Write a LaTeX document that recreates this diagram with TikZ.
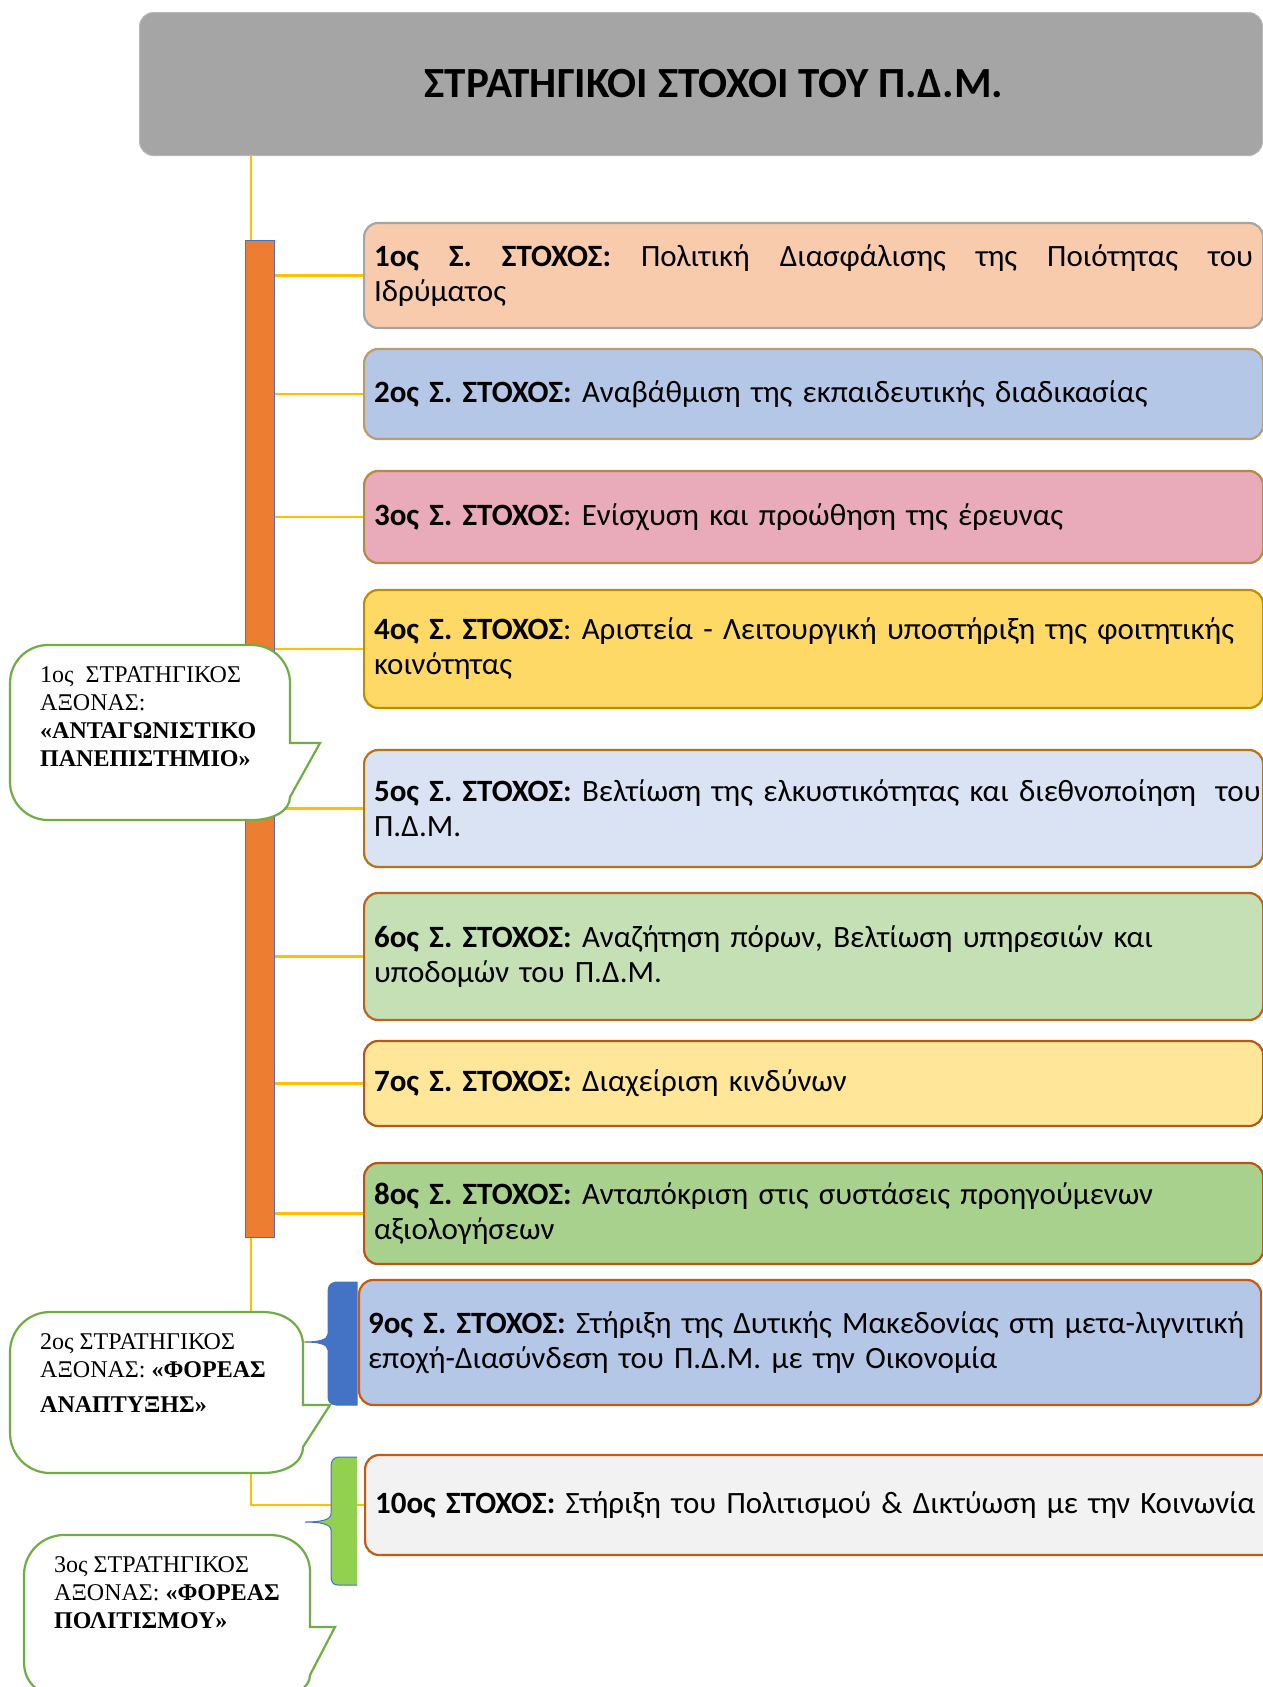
\documentclass[tikz,border=0pt]{standalone}
\usepackage{fontspec}
\setmainfont{Carlito}
\newfontfamily\tnr{Liberation Serif}
\definecolor{hdrgray}{HTML}{A5A5A5}
\definecolor{yl}{HTML}{FFC000}
\definecolor{barorange}{HTML}{ED7D31}
\definecolor{accblue}{HTML}{4472C4}
\definecolor{accgreen}{HTML}{92D050}
\definecolor{callgreen}{HTML}{70AD47}
\definecolor{fA}{HTML}{F8CBAD}
\definecolor{fB}{HTML}{B4C7E7}
\definecolor{fC}{HTML}{E9AAB9}
\definecolor{fD}{HTML}{FFD966}
\definecolor{fE}{HTML}{DAE3F3}
\definecolor{fF}{HTML}{C5E0B4}
\definecolor{fG}{HTML}{FFE699}
\definecolor{fH}{HTML}{A9D18E}
\definecolor{fJ}{HTML}{F2F2F2}
\definecolor{dA}{HTML}{A5A5A5}
\definecolor{dB}{HTML}{B99D6B}
\definecolor{dC}{HTML}{B58A45}
\definecolor{dD}{HTML}{BF8F00}
\definecolor{dE}{HTML}{B8720F}
\definecolor{dF}{HTML}{B8651B}
\definecolor{dG}{HTML}{B35A14}
\definecolor{dH}{HTML}{BA5512}
\definecolor{dJ}{HTML}{C55A11}
\begin{document}
\begin{tikzpicture}[x=1pt,y=-1pt,
  goalbox/.style={draw, rounded corners=14pt, line width=2.2pt, anchor=west,
    inner xsep=10pt, inner ysep=0pt, text width=879pt, align=left,
    font=\fontsize{31}{35}\selectfont},
  yline/.style={draw=yl, line width=2.5pt},
  callout/.style={draw=callgreen, line width=2.2pt, fill=white},
  calltext/.style={anchor=west, inner sep=0pt, align=left,
    font=\tnr\fontsize{24}{28}\selectfont}]
\useasboundingbox (0,0) rectangle (1263,1687);

% header
\node[draw=hdrgray!80!white, line width=1pt, fill=hdrgray, rounded corners=14pt,
  anchor=north west, minimum width=1123pt, minimum height=143pt, inner sep=0pt]
  (hdr) at (139,12) {};
\node[font=\bfseries\fontsize{43}{48}\selectfont, inner sep=0pt] (title) at (714,84)
  {ΣΤΡΑΤΗΓΙΚΟΙ ΣΤΟΧΟΙ ΤΟΥ Π.Δ.Μ.};

% goal boxes
\node[goalbox, draw=dA, fill=fA, minimum height=105pt, align=justify] (b1) at (363,275.5)
  {\textbf{1ος Σ. ΣΤΟΧΟΣ:} Πολιτική Διασφάλισης της Ποιότητας του\linebreak Ιδρύματος};
\node[goalbox, draw=dB, fill=fB, minimum height=90pt] (b2) at (363,394)
  {\textbf{2ος Σ. ΣΤΟΧΟΣ:} Αναβάθμιση της εκπαιδευτικής διαδικασίας};
\node[goalbox, draw=dC, fill=fC, minimum height=92pt] (b3) at (363,517)
  {\textbf{3ος Σ. ΣΤΟΧΟΣ}: Ενίσχυση και προώθηση της έρευνας};
\node[goalbox, draw=dD, fill=fD, minimum height=118pt] (b4) at (363,649)
  {\mbox{\textbf{4ος Σ. ΣΤΟΧΟΣ}: Αριστεία - Λειτουργική υποστήριξη της φοιτητικής}\\κοινότητας};
\node[goalbox, draw=dE, fill=fE, minimum height=117pt] (b5) at (363,808.5)
  {\mbox{\textbf{5ος Σ. ΣΤΟΧΟΣ:} Βελτίωση της ελκυστικότητας και διεθνοποίηση\hspace{0.3em} του}\\Π.Δ.Μ.};
\node[goalbox, draw=dF, fill=fF, minimum height=127pt] (b6) at (363,956.5)
  {\mbox{\textbf{6ος Σ. ΣΤΟΧΟΣ:} Αναζήτηση πόρων, Βελτίωση υπηρεσιών και}\\υποδομών του Π.Δ.Μ.};
\node[goalbox, draw=dG, fill=fG, minimum height=85pt] (b7) at (363,1083.5)
  {\textbf{7ος Σ. ΣΤΟΧΟΣ:} Διαχείριση κινδύνων};
\node[goalbox, draw=dH, fill=fH, minimum height=101pt] (b8) at (363,1213.5)
  {\mbox{\textbf{8ος Σ. ΣΤΟΧΟΣ:} Ανταπόκριση στις συστάσεις προηγούμενων}\\αξιολογήσεων};
\node[goalbox, draw=dJ, fill=fB, minimum height=125pt, text width=884pt, inner xsep=9pt] (b9) at (358,1342.5)
  {\mbox{\textbf{9ος Σ. ΣΤΟΧΟΣ:} Στήριξη της Δυτικής Μακεδονίας στη μετα-λιγνιτική}\\εποχή-Διασύνδεση του Π.Δ.Μ. με την Οικονομία};
\node[goalbox, draw=dJ, fill=fJ, minimum height=100pt, text width=920pt] (b10) at (364,1505)
  {\mbox{\textbf{10ος ΣΤΟΧΟΣ:} Στήριξη του Πολιτισμού \& Δικτύωση με την Κοινωνία}};

% trunk and connectors
\coordinate (t0) at (251,155);
\coordinate (t1) at (251,1505);
\coordinate (bt) at (305,1342);
\coordinate (gt) at (305,1522);
\coordinate (t2) at (251,1342);
\draw[yline] (t0) -- (t1) -- (b10.west);
\draw[yline] (t2) -- (bt);

% orange bar
\node[draw=accblue, line width=1pt, fill=barorange, anchor=north west,
  minimum width=29pt, minimum height=997pt, inner sep=0pt] (bar) at (245,240) {};
\foreach \b in {b1,b2,b3,b4,b5,b6,b7,b8}
  \draw[yline] (\b.west -| bar.east) -- (\b.west);

% blue bracket
\draw[accblue, fill=accblue, line width=1pt] (357,1282) -- (336,1282)
  .. controls (330,1283) and (328,1286) .. (328,1292) -- (328,1334)
  .. controls (328,1340) and (318,1342) .. (bt)
  .. controls (318,1342) and (328,1344) .. (328,1350) -- (328,1396)
  .. controls (328,1402) and (330,1404) .. (336,1405) -- (357,1405) -- cycle;
% green bracket
\fill[accgreen] (357,1457) -- (338,1457)
  .. controls (333,1458) and (331,1461) .. (331,1467) -- (331,1514)
  .. controls (331,1520) and (320,1522) .. (gt)
  .. controls (320,1522) and (331,1524) .. (331,1530) -- (331,1576)
  .. controls (331,1582) and (333,1585) .. (338,1585) -- (357,1585) -- cycle;
\draw[accblue, line width=1pt] (357,1457) -- (338,1457)
  .. controls (333,1458) and (331,1461) .. (331,1467) -- (331,1514)
  .. controls (331,1520) and (320,1522) .. (gt)
  .. controls (320,1522) and (331,1524) .. (331,1530) -- (331,1576)
  .. controls (331,1582) and (333,1585) .. (338,1585) -- (357,1585);
\draw[yline] (357,1505) -- (b10.west);

% callouts
\draw[callout] (48,645) -- (252,645) .. controls (273,645) and (290,662) .. (290,683)
  -- (290,743) -- (320,743) -- (290,797) .. controls (290,811) and (273,820) .. (252,820)
  -- (48,820) .. controls (27,820) and (10,803) .. (10,782) -- (10,683)
  .. controls (10,662) and (27,645) .. (48,645) -- cycle;
\draw[callout] (50,1312) -- (263,1312) .. controls (285,1312) and (303,1325) .. (303,1345)
  -- (303,1405) -- (330,1405) -- (303,1447) .. controls (303,1463) and (285,1473) .. (263,1473)
  -- (50,1473) .. controls (28,1473) and (10,1455) .. (10,1433) -- (10,1352)
  .. controls (10,1330) and (28,1312) .. (50,1312) -- cycle;
\draw[callout] (64,1535) -- (270,1535) .. controls (292,1535) and (310,1550) .. (310,1572)
  -- (310,1627) -- (335,1627) -- (310,1675) .. controls (310,1688) and (295,1697) .. (270,1697)
  -- (64,1697) .. controls (42,1697) and (24,1685) .. (24,1662) -- (24,1575)
  .. controls (24,1553) and (42,1535) .. (64,1535) -- cycle;

\node[calltext] (c1) at (40,717)
  {1ος\ \ ΣΤΡΑΤΗΓΙΚΟΣ\\ΑΞΟΝΑΣ:\\\textbf{«ΑΝΤΑΓΩΝΙΣΤΙΚΟ}\\\textbf{ΠΑΝΕΠΙΣΤΗΜΙΟ»}};
\node[calltext] (c2) at (40,1373)
  {2ος ΣΤΡΑΤΗΓΙΚΟΣ\\ΑΞΟΝΑΣ: \textbf{«ΦΟΡΕΑΣ}\\[7pt]\textbf{ΑΝΑΠΤΥΞΗΣ»}};
\node[calltext] (c3) at (54,1593)
  {3ος ΣΤΡΑΤΗΓΙΚΟΣ\\ΑΞΟΝΑΣ: \textbf{«ΦΟΡΕΑΣ}\\\textbf{ΠΟΛΙΤΙΣΜΟΥ»}};
\end{tikzpicture}
\end{document}
